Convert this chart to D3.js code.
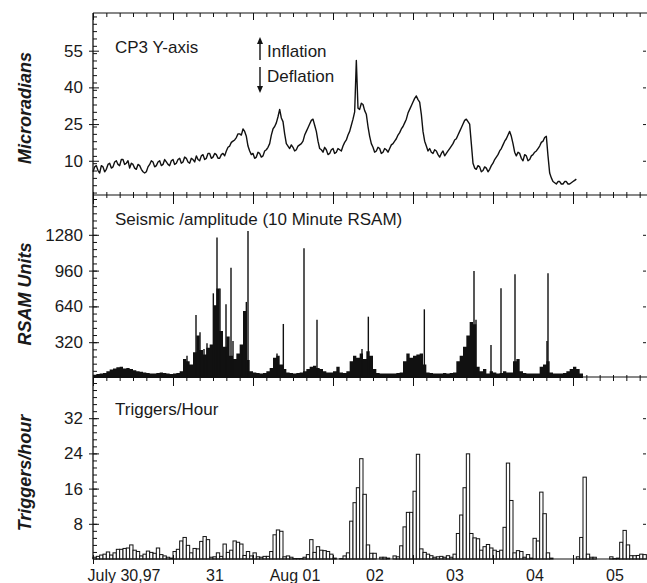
<!DOCTYPE html>
<html><head><meta charset="utf-8">
<script src="https://cdn.jsdelivr.net/npm/d3@7"></script>
<style>
body{margin:0;background:#fff;}
svg{display:block;font-family:"Liberation Sans",Arial,Helvetica,sans-serif;}
</style>
</head><body>
<svg id="c" width="647" height="583"></svg>
<script>
// ---------- DATA (from 30 July 1997 00:00) ----------
const dayLabels = ["July 30,97","31","Aug 01","02","03","04","05"];
const tiltTicks = [10,25,40,55];
const rsamTicks = [320,640,960,1280];
const trigTicks = [8,16,24,32];

// CP3 Y-axis tilt, microradians (half-hourly)
const tilt = [
5.5,7.5,8,6,5,8,7.5,5.5,6.5,8.5,9,7,7.5,9.5,10,8.5,8,10.5,10.5,8.5,9,10,7,9,
8.5,7,6.5,8.5,8,6.5,5.5,5,5.5,7.5,8.5,10,9.5,7.5,8,9.5,10,8,8.5,10.5,9.5,8.5,8,10,
10.5,8.5,9,10.5,11,9,9.5,11.5,11,9.5,9,11,10.5,9.5,12,10.5,10,12,12.5,10.5,11,13,13,11,
11.5,13,12.5,11,11,12.5,13,12,14,15.5,16,17.5,18,18.5,19.5,21,21,20.5,23,22,20,16,14,12.5,
13,11,11.5,13.5,13,11.5,12,14,14.5,15.5,17,20.5,23,24,25.5,28,31,27.5,26,21,17,16,15,16.5,
15.5,14,14.5,16,16.5,17,18,20.5,22,23.5,25,26.5,27,24.5,22,18,15,14.5,13.5,15.5,14.5,12.5,13,14.5,
15,13,13.5,15,14.5,14,16,17.5,18.5,20.5,22,24.5,27,30,51,31.5,31,33.5,33,30.5,29,24,20,17,
15.5,13.5,14,15.5,15,13,13.5,15,14.5,13.5,15,16.5,17,18,19,20.5,21.5,23,24,25.5,27,29.5,31,32.5,
34,35.5,36.5,35,34,29,22,18,16,14,15,13.5,13,14.5,14,12.5,11.5,13,14,12,13,14,15,16,
17,18.5,19,20.5,22,23.5,25,26.5,27,26,25,17,9,7,6.5,8,7.5,5.5,6,7.5,7,5.5,6.5,8,
9,10.5,11.5,12.5,14,15,16.5,18,19,20.5,22,20,17,13.5,12,13.5,13,11,10,12.5,12,10,10.5,12,
12.5,13.5,14,15,16,17.5,18,19.5,20,12,5,3,1.5,1,0.5,1.5,1.5,0.5,0.5,1.5,1.5,0.5,0.5,1,
1.5,2,2.5
];

// RSAM bulk level (hourly envelope of the 10-minute values)
const rsamLevel = [
30,35,40,45,60,75,85,95,100,85,90,80,70,60,55,50,45,40,40,45,50,45,40,35,
40,45,60,170,150,120,230,380,250,210,270,300,650,800,420,280,370,200,170,220,300,600,160,60,
50,45,40,45,60,90,180,200,120,80,50,45,40,45,50,60,80,100,110,90,80,60,50,50,
60,100,50,45,60,150,200,180,220,170,240,200,80,45,40,40,40,40,40,45,50,150,220,180,
200,210,220,120,50,45,40,40,40,45,40,45,50,150,200,280,380,500,480,100,60,80,40,60,
50,40,45,60,50,50,150,170,60,45,40,40,40,40,100,120,150,50,40,40,40,45,60,80,
100,80,40
];
// RSAM spikes: [hour, RSAM units]
const rsamSpikes = [
[28.2,200],[30.9,563],[32.1,410],[33.3,260],[34.2,310],[36.1,757],[37.2,1255],[38.1,800],
[39.9,659],[41.4,986],[42.0,330],[44.7,280],[46.0,680],[46.5,1315],[55.2,220],[57.1,483],
[63.3,1160],[67.2,520],[80.7,260],[82.6,548],[99.4,614],[114.3,957],[114.9,520],[119.4,295],
[122.4,802],[126.6,927],[136.2,330],[136.5,936]
];

// Triggers per hour
const triggers = [
0.4,0.6,0.9,1.1,1.6,0.9,1.4,2.2,2.2,2.4,2.5,3.2,2.0,1.7,0.7,1.1,1.8,1.5,1.3,2.5,1.0,0.7,0.4,0.2,
1.7,2.2,4.1,4.9,3.1,1.4,2.4,2.3,4.0,5.1,4.4,0.4,0.5,1.4,0.6,3.4,1.5,2.0,4.1,3.8,3.4,0.8,1.7,0.7,
1.4,0.5,0.4,0.6,0.6,1.7,5.5,6.6,6.3,0.5,0.7,0.4,0.1,0.1,0.1,0.4,1.0,4.4,1.5,2.8,2.0,1.9,1.7,1.1,
0.2,0,0.1,0.7,1.4,8.6,12.8,16.2,22.8,14.7,3.2,1.3,1.3,0,0.4,0.4,0.2,0,0.7,0.5,3.0,7.3,10.6,10.6,
15.4,23.8,2.3,1.5,1.1,0.75,0.4,0.5,0.6,0.4,0.75,0.4,1.1,5.8,10.0,16.2,23.9,5.8,4.8,4.6,2.0,2.8,3.3,2.5,
2.0,1.7,2.0,7.2,21.8,13.3,1.4,1.9,1.7,0.4,1.0,0.2,4.7,4.1,15.2,10.3,1.4,0.2,0,0,0,0,0,0,
0,0.5,4.9,18.6,1.1,0.4,0.4,0,0,0,0,0.5,0.1,0.2,3.8,6.5,3.2,0.75,0.75,0.8,1.1,1.0
];

// ---------- SCALES ----------
const t0 = Date.UTC(1997,6,30);
const HOUR = 3600e3;
const x = d3.scaleUtc().domain([new Date(t0), new Date(t0 + 166.2*HOUR)]).range([93, 647]);
const hx = h => x(new Date(t0 + h*HOUR));

const panels = [
  {y: d3.scaleLinear().domain([-4,70]).range([195,14]), top:13, bottom:195, ticks:tiltTicks, minor:3,
   label:"Microradians", labelY:108},
  {y: d3.scaleLinear().domain([0,1600]).range([378,199]), top:195, bottom:377, ticks:rsamTicks, minor:64,
   label:"RSAM Units", labelY:294},
  {y: d3.scaleLinear().domain([0,40]).range([559,383]), top:377, bottom:559, ticks:trigTicks, minor:1.6,
   label:"Triggers/hour", labelY:473}
];
const [yT, yR, yG] = panels.map(p => p.y);

const svg = d3.select("#c");
const ink = "#111";

// ---------- MARKS ----------
// Triggers bars
svg.append("g").selectAll("rect").data(triggers).join("rect")
  .attr("x", (d,i) => hx(i))
  .attr("width", (d,i) => hx(i+1) - hx(i))
  .attr("y", d => yG(d))
  .attr("height", d => yG(0) - yG(d))
  .attr("fill", "#fff").attr("stroke", ink).attr("stroke-width", 1);

// RSAM bulk area (stepped)
const rsamPts = rsamLevel.map((v,i) => [i, v]);
rsamPts.push([rsamLevel.length, rsamLevel[rsamLevel.length-1]]);
svg.append("path").datum(rsamPts)
  .attr("d", d3.area().curve(d3.curveStepAfter).x(d => hx(d[0])).y0(yR(0)).y1(d => yR(d[1])))
  .attr("fill", ink);
// RSAM spikes
svg.append("g").selectAll("line").data(rsamSpikes).join("line")
  .attr("x1", d => hx(d[0])).attr("x2", d => hx(d[0]))
  .attr("y1", yR(0)).attr("y2", d => yR(d[1]))
  .attr("stroke", ink).attr("stroke-width", 1.4);

// Tilt line (half-hourly)
svg.append("path").datum(tilt)
  .attr("d", d3.line().x((d,i) => hx(i/2)).y(d => yT(d)))
  .attr("fill", "none").attr("stroke", ink).attr("stroke-width", 1.4).attr("stroke-linejoin","round");

// ---------- AXES ----------
const minorHours = d3.utcHour.every(4).range(new Date(t0), new Date(t0 + 166.2*HOUR));
const days = d3.utcDay.range(new Date(t0), new Date(t0 + 167*HOUR));
function xAxisAt(yPos, up, down, upMajor, downMajor, withMinor) {
  const g = svg.append("g");
  g.append("line").attr("x1", 93).attr("x2", 647).attr("y1", yPos).attr("y2", yPos)
    .attr("stroke", ink).attr("stroke-width", 1.2);
  if (withMinor) {
    g.append("g").attr("transform", `translate(0,${yPos})`)
      .call(d3.axisBottom(x).tickValues(minorHours).tickSize(down).tickFormat(""))
      .call(a => a.select(".domain").remove());
    if (up > 0) g.append("g").attr("transform", `translate(0,${yPos})`)
      .call(d3.axisTop(x).tickValues(minorHours).tickSize(up).tickFormat(""))
      .call(a => a.select(".domain").remove());
  }
  g.append("g").attr("transform", `translate(0,${yPos})`)
    .call(d3.axisBottom(x).tickValues(days).tickSize(downMajor).tickFormat(""))
    .call(a => a.select(".domain").remove());
  if (upMajor > 0) g.append("g").attr("transform", `translate(0,${yPos})`)
    .call(d3.axisTop(x).tickValues(days).tickSize(upMajor).tickFormat(""))
    .call(a => a.select(".domain").remove());
  g.selectAll(".tick line").attr("stroke", ink).attr("stroke-width", 1);
}
xAxisAt(13, 0, 4, 0, 7, true);
xAxisAt(195, 3, 3, 3, 9, true);
xAxisAt(377, 2, 4, 0, 9, true);
xAxisAt(559, 0, 0, 4, 5, false);

// left axis line
svg.append("line").attr("x1", 93).attr("x2", 93).attr("y1", 13).attr("y2", 559)
  .attr("stroke", ink).attr("stroke-width", 1.3);

panels.forEach(p => {
  const [lo, hi] = p.y.domain();
  const minors = d3.range(Math.ceil(lo / p.minor) * p.minor, hi + 1e-9, p.minor)
    .filter(v => p.y(v) > p.top + 2 && p.y(v) < p.bottom - 2);
  svg.append("g").attr("transform", "translate(93,0)")
    .call(d3.axisRight(p.y).tickValues(minors).tickSize(4).tickFormat(""))
    .call(a => a.select(".domain").remove())
    .selectAll("line").attr("stroke", ink);
  svg.append("g").attr("transform", "translate(93,0)")
    .call(d3.axisRight(p.y).tickValues(p.ticks).tickSize(6).tickFormat(""))
    .call(a => a.select(".domain").remove())
    .selectAll("line").attr("stroke", ink);
  svg.append("g").attr("transform", "translate(93,0)")
    .call(d3.axisLeft(p.y).tickValues(p.ticks).tickSize(4).tickPadding(6).tickFormat(d3.format("d")))
    .call(a => a.select(".domain").remove())
    .call(a => a.selectAll("line").attr("stroke", ink))
    .call(a => a.selectAll("text").attr("font-size", 17).attr("fill", "#1a1a1a")
      .attr("font-family", '"Liberation Sans",Arial,sans-serif'));
  svg.append("g").attr("transform", "translate(646,0)")
    .call(d3.axisLeft(p.y).tickValues(p.ticks).tickSize(3).tickFormat(""))
    .call(a => a.select(".domain").remove())
    .selectAll("line").attr("stroke", ink);
  svg.append("text").attr("transform", `translate(31,${p.labelY}) rotate(-90)`)
    .attr("text-anchor", "middle").attr("font-size", 18).attr("font-weight", "bold")
    .attr("font-style", "italic").attr("fill", "#1a1a1a").text(p.label);
});

// panel titles
const titleStyle = s => s.attr("font-size", 17).attr("fill", "#1a1a1a");
svg.append("text").attr("x", 115).attr("y", 53).text("CP3 Y-axis").call(titleStyle);
svg.append("text").attr("x", 115).attr("y", 225).text("Seismic /amplitude (10 Minute RSAM)").call(titleStyle);
svg.append("text").attr("x", 115).attr("y", 415).text("Triggers/Hour").call(titleStyle);
svg.append("text").attr("x", 267).attr("y", 57).text("Inflation").call(titleStyle);
svg.append("text").attr("x", 267).attr("y", 81.5).text("Deflation").call(titleStyle);

// inflation / deflation arrows
const ax = 260;
svg.append("line").attr("x1", ax).attr("x2", ax).attr("y1", 60).attr("y2", 42).attr("stroke", ink).attr("stroke-width", 1.4);
svg.append("path").attr("d", `M${ax-3},${44} L${ax},${37} L${ax+3},${44} Z`).attr("fill", ink);
svg.append("line").attr("x1", ax).attr("x2", ax).attr("y1", 67).attr("y2", 88).attr("stroke", ink).attr("stroke-width", 1.4);
svg.append("path").attr("d", `M${ax-3},${86} L${ax},${93} L${ax+3},${86} Z`).attr("fill", ink);

// day labels at noon
svg.append("g").selectAll("text").data(dayLabels).join("text")
  .attr("x", (d,i) => x(new Date(t0 + (i*24 + 12)*HOUR)) + (i === 0 ? -9 : 2))
  .attr("y", 581).attr("text-anchor", "middle").attr("font-size", 16).attr("fill", "#1a1a1a")
  .text(d => d);
</script>
</body></html>
